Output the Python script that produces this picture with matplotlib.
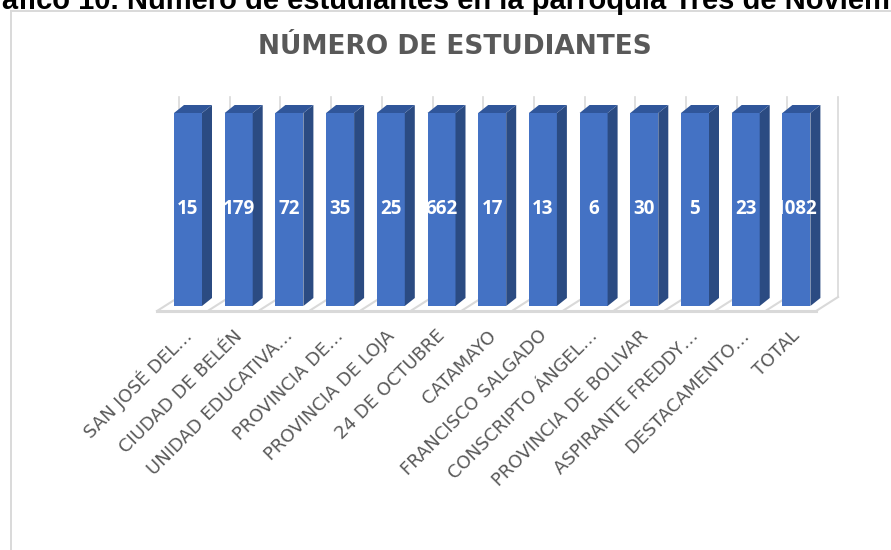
import numpy as np
import matplotlib
matplotlib.use("Agg")
import matplotlib.pyplot as plt
from matplotlib.patches import Polygon

# ---------------- data ----------------
categories = [
    "SAN JOSÉ DEL…", "CIUDAD DE BELÉN", "UNIDAD EDUCATIVA…", "PROVINCIA DE…",
    "PROVINCIA DE LOJA", "24 DE OCTUBRE", "CATAMAYO", "FRANCISCO SALGADO",
    "CONSCRIPTO ÁNGEL…", "PROVINCIA DE BOLIVAR", "ASPIRANTE FREDDY…",
    "DESTACAMENTO…", "TOTAL",
]
students = np.array([15, 179, 72, 35, 25, 662, 17, 13, 6, 30, 5, 23, 1082])
# each column is its own series in a 100 % stacked chart -> every column = 100 %
share = students / students * 100

heading = "Gráfico 10. Número de estudiantes en la parroquia Tres de Noviembre"
chart_title = "NÚMERO DE ESTUDIANTES"

# ---------------- style ----------------
FRONT = "#4472C4"
TOP = "#30569A"
SIDE = "#2B4B82"
GRID = "#D9D9D9"
TXT = "#595959"

W, H = 891, 550
fig = plt.figure(figsize=(W / 100, H / 100), dpi=100)

# heading (clipped at top/left like the reference)
HFS = 21
t = fig.text(0, 0, "Gr", fontsize=HFS, fontweight="bold", family="Liberation Sans")
fig.canvas.draw()
gr_w = t.get_window_extent().width
t.remove()
fig.text((-gr_w + 2) / W, 1 - 9 / H, heading, fontsize=HFS, fontweight="bold",
         family="Liberation Sans", color="black", ha="left", va="baseline")

# chart frame (cut at right and bottom)
fig.add_artist(plt.Line2D([10.5 / W, 1.0], [1 - 10.5 / H] * 2, color=GRID, lw=1.4,
                          transform=fig.transFigure))
fig.add_artist(plt.Line2D([10.5 / W] * 2, [1 - 10.5 / H, 0.0], color=GRID, lw=1.4,
                          transform=fig.transFigure))

fig.text(455 / W, 1 - 47 / H, chart_title, fontsize=19, fontweight="bold",
         family="DejaVu Sans", color=TXT, ha="center", va="center")

# ---------------- plot area ----------------
PX = 50.7   # pixels per category
PY = 1.93   # pixels per percent
X0, Y0 = 188, 306  # pixel of category 0 / value 0
left_px, right_px, top_px, bot_px = 150, 850, 90, 320
ax = fig.add_axes([left_px / W, 1 - bot_px / H, (right_px - left_px) / W, (bot_px - top_px) / H])
ax.set_xlim((left_px - X0) / PX, (right_px - X0) / PX)
ax.set_ylim((Y0 - bot_px) / PY, (Y0 - top_px) / PY)
ax.axis("off")

idx = np.arange(len(categories))
bw = 28 / PX
ddx, ddy = 10 / PX, 8 / PY

# back wall gridlines and floor
for k in range(len(categories) + 1):
    xb = k + (179 - X0) / PX
    ax.plot([xb, xb], [(Y0 - 297) / PY, (Y0 - 97) / PY], color=GRID, lw=1.2, zorder=1)
    xf = k + (157 - X0) / PX
    ax.plot([xf, xb], [(Y0 - 311) / PY, (Y0 - 297) / PY], color=GRID, lw=1.5, zorder=1)
ax.plot([(157 - X0) / PX, len(categories) + (157 - X0) / PX], [(Y0 - 311) / PY] * 2,
        color=GRID, lw=2.2, zorder=1)

# bars
ax.bar(idx, share, width=bw, color=FRONT, zorder=3)
for i, h in zip(idx, share):
    xr = i + bw / 2
    xl = i - bw / 2
    ax.add_patch(Polygon([(xr, 0), (xr + ddx, ddy), (xr + ddx, h + ddy), (xr, h)],
                         closed=True, facecolor=SIDE, edgecolor="none", zorder=3))
    ax.add_patch(Polygon([(xl, h), (xr, h), (xr + ddx, h + ddy), (xl + ddx, h + ddy)],
                         closed=True, facecolor=TOP, edgecolor="none", zorder=3))
    ax.text(i, h / 2, f"{students[i]}", color="white", fontsize=13.5, fontweight="bold",
            family="Open Sans", ha="center", va="center", zorder=5)

# category labels
for i, lab in enumerate(categories):
    ax.text(i + 1 / PX, (Y0 - 333) / PY, lab, rotation=45, rotation_mode="anchor",
            ha="right", va="center", fontsize=13, family="DejaVu Sans", color=TXT,
            clip_on=False)

fig.savefig("out.png", dpi=100)
